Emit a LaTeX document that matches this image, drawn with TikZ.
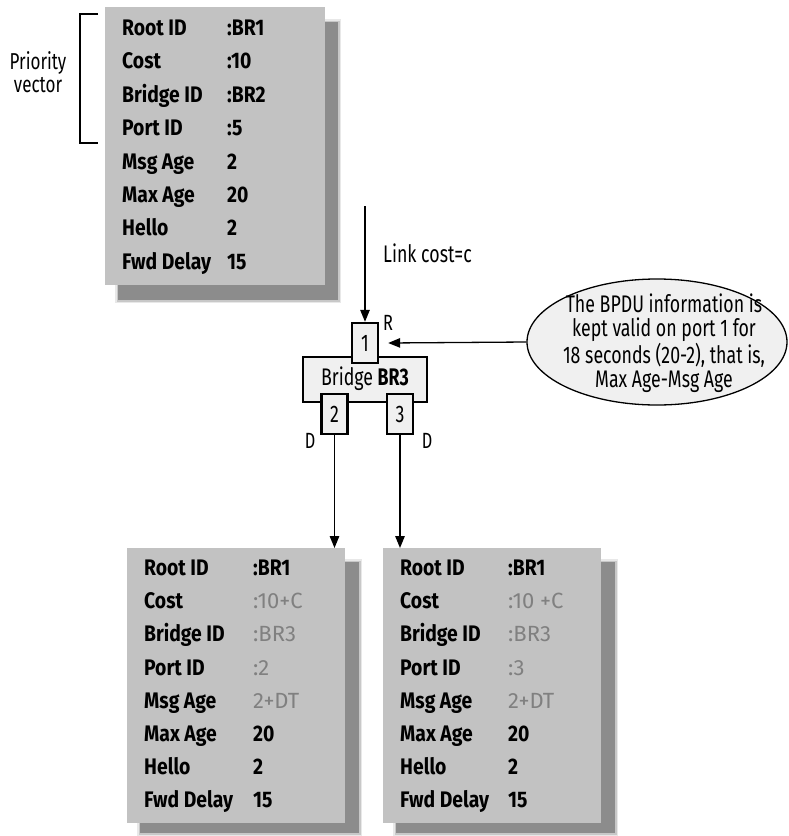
\documentclass[tikz,border=0pt]{standalone}
\usepackage{fontspec}
\setmainfont[FakeStretch=0.74]{Fira Sans}
\newfontfamily\tabfont[FakeStretch=0.86]{Fira Sans}
\newfontfamily\grayfont[FakeStretch=1.0]{Fira Sans}
\usetikzlibrary{arrows.meta,shapes.geometric}
\definecolor{boxgray}{HTML}{C2C2C2}
\definecolor{shadowgray}{HTML}{8C8C8C}
\definecolor{valgray}{HTML}{808080}
\definecolor{lightfill}{HTML}{F0F0F0}
\begin{document}
\begin{tikzpicture}[x=1pt,y=-1pt,
  tablebox/.style={fill=boxgray,draw=none},
  lbl/.style={anchor=west,inner sep=0pt,text height=15pt,text depth=0pt,font=\tabfont\bfseries\fontsize{22.5}{22.5}\selectfont},
  gval/.style={anchor=west,inner sep=0pt,text height=15pt,text depth=0pt,text=valgray,font=\grayfont\fontsize{22}{22}\selectfont},
  port/.style={draw=black,fill=lightfill,line width=2.4pt,minimum width=26pt,minimum height=40pt,inner sep=0pt,font=\fontsize{24}{24}\selectfont},
  plain/.style={inner sep=0pt,font=\fontsize{24}{24.3}\selectfont},
  conn/.style={line width=1.3pt,-{Triangle[length=12pt,width=9.5pt]}}
]
\useasboundingbox (0,0) rectangle (789,836);

% blurred shadows
\foreach \xa/\ya/\xb/\yb in {118/22/338/300, 140/562/359/833, 396/562/615/833}{
  \foreach \e/\o in {3/0.2,1.5/0.35}{
    \fill[shadowgray,opacity=\o] (\xa-\e,\ya-\e) rectangle (\xb+\e,\yb+\e);
  }
  \fill[shadowgray] (\xa,\ya) rectangle (\xb,\yb);
}
% boxes
\node[tablebox,minimum width=220pt,minimum height=278pt,inner sep=0pt,anchor=north west] (top) at (105,7) {};
\node[tablebox,minimum width=218pt,minimum height=275pt,inner sep=0pt,anchor=north west] (bl) at (127,548) {};
\node[tablebox,minimum width=218pt,minimum height=275pt,inner sep=0pt,anchor=north west] (br) at (383,548) {};

% top table
\foreach \i/\l/\v in {0/Root ID/:BR1,1/Cost/:10,2/Bridge ID/:BR2,3/Port ID/:5,4/Msg Age/2,5/Max Age/20,6/Hello/2,7/Fwd Delay/15}{
  \node[lbl] (tl\i) at (122,28+33.4*\i) {\l};
  \node[lbl] (tv\i) at (227,28+33.4*\i) {\v};
}
% lower tables: labels
\foreach \i/\l in {0/Root ID,1/Cost,2/Bridge ID,3/Port ID,4/Msg Age,5/Max Age,6/Hello,7/Fwd Delay}{
  \node[lbl] (ll\i) at (144,568+33.2*\i) {\l};
  \node[lbl] (rl\i) at (400,568+33.2*\i) {\l};
}
\node[lbl] (lv0) at (253,568) {:BR1};
\node[gval] (lv1) at (253,568+33.2) {:10+C};
\node[gval] (lv2) at (253,568+66.4) {:BR3};
\node[gval] (lv3) at (253,568+99.6) {:2};
\node[gval] (lv4) at (253,568+132.8) {2+DT};
\node[lbl] (lv5) at (253,568+166) {20};
\node[lbl] (lv6) at (253,568+199.2) {2};
\node[lbl] (lv7) at (253,568+232.4) {15};
\node[lbl] (rv0) at (508,568) {:BR1};
\node[gval] (rv1) at (508,568+33.2) {:10 +C};
\node[gval] (rv2) at (508,568+66.4) {:BR3};
\node[gval] (rv3) at (508,568+99.6) {:3};
\node[gval] (rv4) at (508,568+132.8) {2+DT};
\node[lbl] (rv5) at (508,568+166) {20};
\node[lbl] (rv6) at (508,568+199.2) {2};
\node[lbl] (rv7) at (508,568+232.4) {15};

% priority vector bracket
\draw[line width=1.3pt] (98,14) -- (80,14) -- (80,143) -- (98,143);
\node[plain,align=center,font=\fontsize{23}{23.5}\selectfont] (pv) at (38,72) {Priority\\vector};

% bridge
\node[draw=black,fill=lightfill,line width=1.3pt,minimum width=124pt,minimum height=45pt,inner sep=0pt] (bridge) at (365,379.5) {};
\node[plain] (btext) at (365,379) {Bridge \textbf{BR3}};
\node[port] (p1) at (365,343) {1};
\node[port] (p2) at (334.5,414) {2};
\node[port] (p3) at (400,414) {3};
\node[plain,font=\fontsize{22}{22}\selectfont] (lR) at (388,323) {R};
\node[plain,font=\fontsize{22}{22}\selectfont] (lD1) at (310,441) {D};
\node[plain,font=\fontsize{22}{22}\selectfont] (lD2) at (427,441) {D};

% incoming link
\coordinate (linktop) at (365,206);
\draw[conn] (linktop) -- (p1.north);
\node[plain,anchor=west] (lc) at (383,253) {Link cost=c};

% callout
\node[ellipse,draw=black,fill=lightfill,line width=1.3pt,minimum width=260pt,minimum height=126pt,inner sep=0pt] (ell) at (657,342) {};
\node[plain,align=center] (etext) at (664,343) {The BPDU information is\\kept valid on port 1 for\\18 seconds (20-2), that is,\\Max Age-Msg Age};
\draw[conn] (ell.west) -- ([xshift=9pt]p1.east);

% outgoing links
\draw[conn] (p2.south) -- (p2.south |- bl.north);
\draw[conn] (p3.south) -- (p3.south |- br.north);
\end{tikzpicture}
\end{document}
